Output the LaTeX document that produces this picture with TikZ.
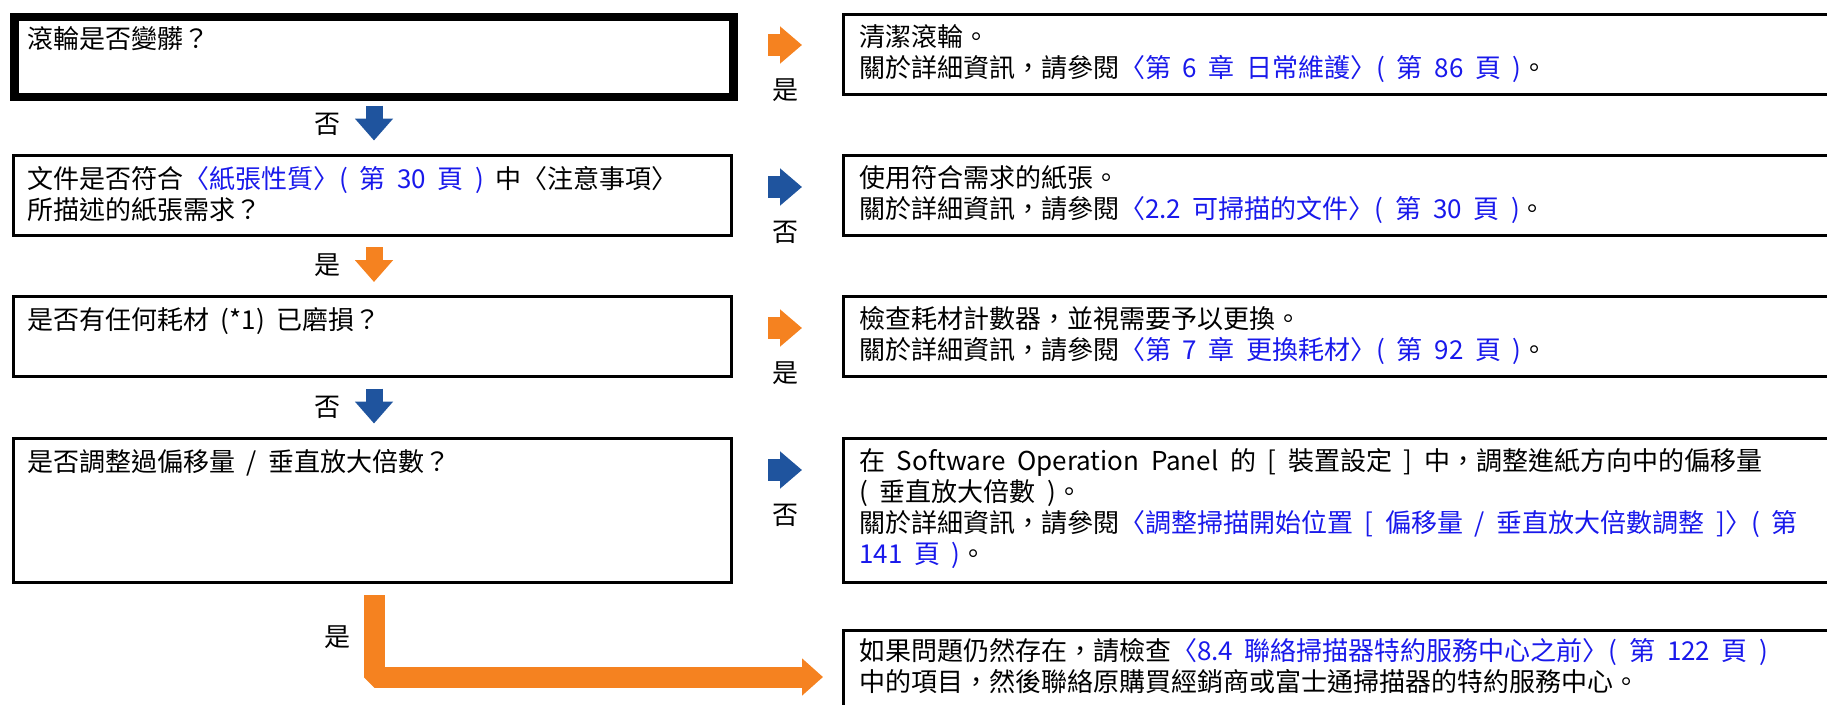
\documentclass[tikz,border=0pt]{standalone}
\usepackage{fontspec}
\newfontfamily\tcfont[WordSpace=2]{Noto Sans CJK TC}
\usetikzlibrary{positioning}
\usetikzlibrary{calc}
\usetikzlibrary{arrows.meta}
\definecolor{orangeA}{RGB}{245,130,32}
\definecolor{blueA}{RGB}{31,84,158}
\definecolor{linkblue}{RGB}{25,25,235}
\newcommand{\lk}[1]{\textcolor{linkblue}{#1}}

\begin{document}
\begin{tikzpicture}[
    x=1pt, y=-1pt,
    box/.style={draw, line width=2.5pt, anchor=north west, inner sep=0pt, minimum width=718pt},
    ans/.style={draw, line width=2.5pt, anchor=north west, inner sep=0pt, minimum width=1100pt},
    txt/.style={anchor=north west, inner sep=0pt, align=left, font=\tcfont\fontsize{26}{31}\selectfont},
    lbl/.style={inner sep=0pt, font=\tcfont\fontsize{26}{31}\selectfont},
    dnarrow/.style={line width=17pt, -{Triangle[width=37pt, length=22pt]}},
    rtarrow/.style={line width=22pt, -{Triangle[width=36pt, length=22pt]}}
]
    \useasboundingbox (0,0) rectangle (1827,704);
    \clip (0,0) rectangle (1827,704);

    % --- Questions ---
    \node[box, line width=8.5pt, minimum width=719pt, minimum height=80pt] (q1) at (10,12.5) {};
    \node[box, minimum height=80pt] (q2) at (12,154) {};
    \node[box, minimum height=80pt] (q3) at (12,295) {};
    \node[box, minimum height=144pt] (q4) at (12,437) {};

    \node[txt, below right=14pt and 17pt of q1.north west] (tq1) {滾輪是否變髒？};
    \node[txt, below right=12pt and 15pt of q2.north west] (tq2)
        {文件是否符合\lk{〈紙張性質〉( 第 30 頁 )} 中〈注意事項〉\\所描述的紙張需求？};
    \node[txt, below right=12pt and 15pt of q3.north west] (tq3) {是否有任何耗材 (*1) 已磨損？};
    \node[txt, below right=12pt and 15pt of q4.north west] (tq4) {是否調整過偏移量 / 垂直放大倍數？};

    % --- Answers ---
    \node[ans, minimum height=80pt] (a1) at (842,13) {};
    \node[ans, minimum height=80pt] (a2) at (842,154) {};
    \node[ans, minimum height=80pt] (a3) at (842,295) {};
    \node[ans, minimum height=144pt] (a4) at (842,437) {};
    \node[ans, minimum height=120pt] (a5) at (842,629) {};

    \node[txt, below right=11pt and 17pt of a1.north west] (ta1)
        {清潔滾輪。\\關於詳細資訊，請參閱\lk{〈第 6 章 日常維護〉( 第 86 頁 )}。};
    \node[txt, below right=11pt and 17pt of a2.north west] (ta2)
        {使用符合需求的紙張。\\關於詳細資訊，請參閱\lk{〈2.2 可掃描的文件〉( 第 30 頁 )}。};
    \node[txt, below right=11pt and 17pt of a3.north west] (ta3)
        {檢查耗材計數器，並視需要予以更換。\\關於詳細資訊，請參閱\lk{〈第 7 章 更換耗材〉( 第 92 頁 )}。};
    \node[txt, below right=11pt and 17pt of a4.north west] (ta4)
        {在 Software Operation Panel 的 [ 裝置設定 ] 中，調整進紙方向中的偏移量\\( 垂直放大倍數 )。\\關於詳細資訊，請參閱\lk{〈調整掃描開始位置 [ 偏移量 / 垂直放大倍數調整 ]〉( 第}\\\lk{141 頁 )}。};
    \node[txt, below right=9pt and 17pt of a5.north west] (ta5)
        {如果問題仍然存在，請檢查\lk{〈8.4 聯絡掃描器特約服務中心之前〉( 第 122 頁 )}\\中的項目，然後聯絡原購買經銷商或富士通掃描器的特約服務中心。};

    % --- Down arrows ---
    \foreach \i/\y/\c/\t in {1/123/blueA/否, 2/264.5/orangeA/是, 3/406/blueA/否} {
        \coordinate (ds\i) at (374,\y-17.5);
        \coordinate (de\i) at (374,\y+17.5);
        \draw[dnarrow, color=\c] (ds\i) -- (de\i);
        \node[lbl] (dl\i) at (327,\y+1) {\t};
    }

    % --- Right arrows ---
    \foreach \i/\y/\c/\t in {1/45/orangeA/是, 2/187/blueA/否, 3/328/orangeA/是, 4/470/blueA/否} {
        \coordinate (rs\i) at (768,\y);
        \coordinate (re\i) at (802,\y);
        \draw[rtarrow, color=\c] (rs\i) -- (re\i);
        \node[lbl] (rl\i) at (785,\y+45) {\t};
    }

    % --- Last step ---
    \coordinate (ls) at (374,595);
    \coordinate (le) at (823,677);
    \draw[color=orangeA, line width=21pt, line join=bevel, -{Triangle[width=36pt, length=21pt]}] (ls) |- (le);
    \node[lbl] (ll) at (337,637) {是};
\end{tikzpicture}
\end{document}
